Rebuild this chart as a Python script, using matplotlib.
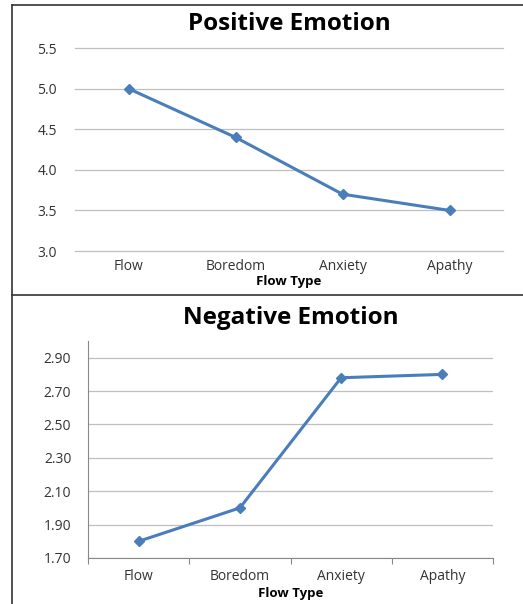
import numpy as np
import matplotlib.pyplot as plt
from matplotlib.lines import Line2D

# data
flow_types = ["Flow", "Boredom", "Anxiety", "Apathy"]
positive_vals = [5.0, 4.4, 3.7, 3.5]
negative_vals = [1.80, 2.00, 2.78, 2.80]
positive_ticks = [3.0, 3.5, 4.0, 4.5, 5.0, 5.5]
negative_ticks = [1.70, 1.90, 2.10, 2.30, 2.50, 2.70, 2.90]

line_color = "#4a7ebb"
grid_color = "#bfbfbf"
text_color = "#333333"
plt.rcParams["font.family"] = ["Open Sans", "DejaVu Sans"]

fig = plt.figure(figsize=(5.23, 6.04), dpi=100)
x = np.arange(len(flow_types))

# ---- Positive emotion ----
ax1 = fig.add_axes([0.1434, 0.5844, 0.8184, 0.3361])
ax1.plot(x, positive_vals, color=line_color, lw=2.2, marker="D", ms=5)
ax1.set_xlim(-0.5, 3.5)
ax1.set_ylim(3.0, 5.5)
ax1.set_yticks(positive_ticks)
ax1.set_yticklabels([f"{v:.1f}" for v in positive_ticks])
ax1.yaxis.grid(True, color=grid_color, lw=0.9)
for gl in ax1.get_ygridlines():
    gl.set_clip_on(False)
ax1.set_axisbelow(True)
for s in ax1.spines.values():
    s.set_visible(False)
ax1.tick_params(axis="both", length=0, labelsize=10, colors=text_color)
ax1.tick_params(axis="y", pad=13)
ax1.tick_params(axis="x", pad=5.5)
ax1.set_xticks(x)
ax1.set_xticklabels(flow_types)
ax1.set_xlabel("Flow Type", fontsize=9.5, fontweight="bold", labelpad=1)
ax1.set_title("Positive Emotion", fontsize=17.5, fontweight="bold", pad=13)

# ---- Negative emotion ----
ax2 = fig.add_axes([0.1683, 0.0762, 0.7743, 0.3592])
ax2.plot(x, negative_vals, color=line_color, lw=2.2, marker="D", ms=5)
ax2.set_xlim(-0.5, 3.5)
ax2.set_ylim(1.70, 3.00)
ax2.set_yticks(negative_ticks)
ax2.set_yticklabels([f"{v:.2f}" for v in negative_ticks])
ax2.yaxis.grid(True, color=grid_color, lw=0.9)
ax2.set_axisbelow(True)
ax2.spines["top"].set_visible(False)
ax2.spines["right"].set_visible(False)
ax2.spines["left"].set_color("#888888")
ax2.spines["bottom"].set_color("#888888")
ax2.set_xticks([-0.5, 0.5, 1.5, 2.5, 3.5], minor=False)
ax2.set_xticklabels([])
ax2.set_xticks(x, minor=True)
ax2.set_xticklabels(flow_types, minor=True)
ax2.tick_params(axis="x", which="major", length=4, color="#888888")
ax2.tick_params(axis="x", which="minor", length=0, pad=8, labelsize=10, colors=text_color)
ax2.tick_params(axis="y", length=0, labelsize=10, colors=text_color, pad=12)
ax2.set_xlabel("Flow Type", fontsize=9.5, fontweight="bold", labelpad=2)
ax2.set_title("Negative Emotion", fontsize=17.5, fontweight="bold", pad=12)

# frame lines around the two panels
frame = dict(color="#333333", lw=1.2)
fig.add_artist(Line2D([12 / 523, 12 / 523], [0, 1 - 5 / 604], **frame))
fig.add_artist(Line2D([12 / 523, 1], [1 - 5 / 604, 1 - 5 / 604], **frame))
fig.add_artist(Line2D([12 / 523, 1], [1 - 295 / 604, 1 - 295 / 604], **frame))

fig.savefig("out.png", dpi=100)
